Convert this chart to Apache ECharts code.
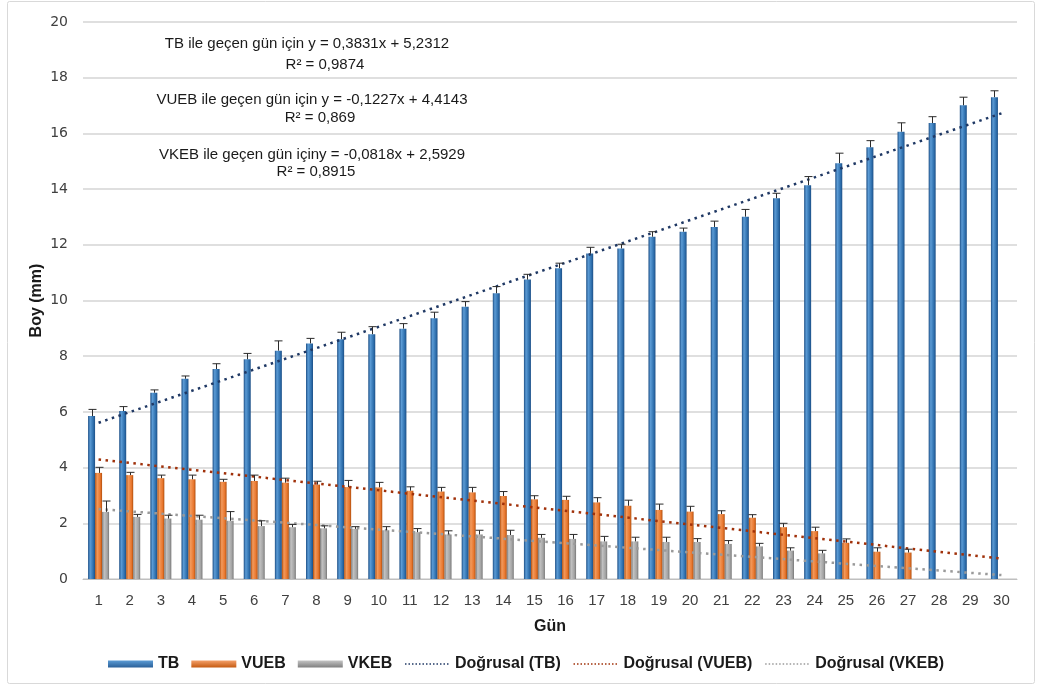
<!DOCTYPE html>
<html>
<head>
<meta charset="utf-8">
<title>Boy (mm) - Gün</title>
<script src="https://cdn.jsdelivr.net/npm/echarts@6/dist/echarts.min.js"></script>
<style>
  html, body { margin: 0; padding: 0; background: #fff; }
  #chart { width: 1037px; height: 686px; }
</style>
</head>
<body>
<div id="chart"></div>
<script>
// gün (x ekseni)
var days = ['1','2','3','4','5','6','7','8','9','10','11','12','13','14','15',
            '16','17','18','19','20','21','22','23','24','25','26','27','28','29','30'];

// ortalama boy (mm) ve üst hata çubukları
var tbValues = [5.85, 6.03, 6.69, 7.19, 7.54, 7.89, 8.20, 8.46, 8.61, 8.79,
                8.99, 9.36, 9.78, 10.26, 10.75, 11.16, 11.69, 11.87, 12.29, 12.47,
                12.64, 13.01, 13.67, 14.14, 14.93, 15.50, 16.06, 16.37, 17.01, 17.30];
var tbErrors = [0.24, 0.16, 0.10, 0.10, 0.19, 0.21, 0.35, 0.18, 0.25, 0.27,
                0.18, 0.22, 0.18, 0.24, 0.19, 0.18, 0.22, 0.15, 0.18, 0.13,
                0.21, 0.26, 0.18, 0.31, 0.36, 0.24, 0.32, 0.23, 0.29, 0.23];

var vuebValues = [3.81, 3.73, 3.62, 3.58, 3.49, 3.52, 3.46, 3.39, 3.30, 3.29,
                  3.17, 3.14, 3.11, 2.98, 2.86, 2.84, 2.75, 2.63, 2.48, 2.42,
                  2.33, 2.20, 1.86, 1.72, 1.30, 0.98, 0.95, null, null, null];
var vuebErrors = [0.20, 0.10, 0.11, 0.15, 0.09, 0.21, 0.16, 0.12, 0.24, 0.18,
                  0.14, 0.15, 0.18, 0.16, 0.13, 0.13, 0.17, 0.20, 0.21, 0.19,
                  0.12, 0.11, 0.14, 0.14, 0.14, 0.14, 0.12, null, null, null];

var vkebValues = [2.41, 2.23, 2.17, 2.13, 2.09, 1.90, 1.86, 1.82, 1.80, 1.75,
                  1.68, 1.60, 1.60, 1.58, 1.48, 1.44, 1.35, 1.35, 1.33, 1.33,
                  1.26, 1.17, 1.02, 0.92, null, null, null, null, null, null];
var vkebErrors = [0.39, 0.09, 0.12, 0.16, 0.33, 0.19, 0.10, 0.09, 0.08, 0.13,
                  0.13, 0.13, 0.15, 0.17, 0.12, 0.16, 0.18, 0.15, 0.17, 0.12,
                  0.12, 0.11, 0.10, 0.11, null, null, null, null, null, null];

// doğrusal eğilim çizgileri: 1. ve 30. gündeki değerler
var trendDays = [1, 30];
var trendTB = [5.61, 16.72];
var trendVUEB = [4.29, 0.73];
var trendVKEB = [2.51, 0.14];

var yTicks = { min: 0, max: 20, interval: 2 };

var annotations = [
  'TB ile geçen gün için y = 0,3831x + 5,2312', 'R² = 0,9874',
  'VUEB ile geçen gün için y = -0,1227x + 4,4143', 'R² = 0,869',
  'VKEB ile geçen gün içiny = -0,0818x + 2,5929', 'R² = 0,8915'
];

var FONT = '"Liberation Sans", sans-serif';

function bevel(dark, light, mid) {
  return new echarts.graphic.LinearGradient(0, 0, 1, 0, [
    { offset: 0, color: dark }, { offset: 0.3, color: light },
    { offset: 0.75, color: mid }, { offset: 1, color: dark }
  ]);
}
function legendFill(dark, light) {
  return new echarts.graphic.LinearGradient(0, 0, 0, 1, [
    { offset: 0, color: light }, { offset: 1, color: dark }
  ]);
}

function pairs(xs, ys) {
  return xs.map(function (x, i) { return [x, ys[i]]; });
}

function errorSeries(values, errors, offset) {
  var data = [];
  for (var i = 0; i < values.length; i++) {
    if (values[i] != null) data.push([i, values[i], values[i] + errors[i]]);
  }
  return {
    type: 'custom',
    silent: true,
    z: 4,
    renderItem: function (params, api) {
      var base = api.coord([api.value(0), api.value(1)]);
      var top = api.coord([api.value(0), api.value(2)]);
      var x = Math.round(base[0] + offset) + 0.5;
      var st = { stroke: '#2b2b2b', lineWidth: 1 };
      return {
        type: 'group',
        children: [
          { type: 'line', shape: { x1: x, y1: base[1], x2: x, y2: top[1] }, style: st },
          { type: 'line', shape: { x1: x - 4, y1: top[1], x2: x + 4, y2: top[1] }, style: st }
        ]
      };
    },
    data: data
  };
}

function trendSeries(name, ys, color) {
  return {
    name: name,
    type: 'line',
    xAxisIndex: 1,
    symbol: 'none',
    silent: true,
    z: 3,
    itemStyle: { color: color },
    lineStyle: { color: color, width: 2.5, type: [2.5, 4.5] },
    data: pairs(trendDays, ys)
  };
}

var chart = echarts.init(document.getElementById('chart'));

var graphics = [{
  type: 'rect',
  shape: { x: 7.5, y: 1.5, width: 1027, height: 682, r: 2 },
  style: { fill: 'none', stroke: '#d9d9d9', lineWidth: 1 },
  silent: true
}];
var annotPos = [[307, 44], [325, 65], [312, 100], [320, 118], [312, 155], [316, 172]];
annotations.forEach(function (t, i) {
  graphics.push({
    type: 'text',
    x: annotPos[i][0], y: annotPos[i][1],
    style: {
      text: t, fill: '#1a1a1a', font: '15px ' + FONT,
      textAlign: 'center', textVerticalAlign: 'middle'
    },
    silent: true
  });
});

var lineLegend = { width: 1.5, type: [1.5, 2] };

var option = {
  animation: false,
  backgroundColor: '#fff',
  textStyle: { fontFamily: FONT },
  grid: { left: 83, right: 20, top: 22, bottom: 107 },
  legend: {
    left: 103,
    top: 651,
    itemWidth: 45,
    itemHeight: 7,
    itemGap: 12,
    textStyle: { fontSize: 16, fontWeight: 'bold', color: '#1a1a1a', fontFamily: FONT },
    data: [
      { name: 'TB', icon: 'rect', itemStyle: { color: legendFill('#2a6099', '#5b9bd5') } },
      { name: 'VUEB', icon: 'rect', itemStyle: { color: legendFill('#c55a11', '#f4a06a') } },
      { name: 'VKEB', icon: 'rect', itemStyle: { color: legendFill('#7f7f7f', '#c4c4c4') } },
      { name: 'Doğrusal (TB)', lineStyle: lineLegend, itemStyle: { opacity: 0 } },
      { name: 'Doğrusal (VUEB)', lineStyle: lineLegend, itemStyle: { opacity: 0 } },
      { name: 'Doğrusal (VKEB)', lineStyle: lineLegend, itemStyle: { opacity: 0 } }
    ]
  },
  xAxis: [{
    type: 'category',
    data: days,
    name: 'Gün',
    nameLocation: 'middle',
    nameGap: 40,
    nameTextStyle: { fontSize: 16, fontWeight: 'bold', color: '#1a1a1a' },
    axisLine: { lineStyle: { color: '#bfbfbf', width: 1 } },
    axisTick: { show: false },
    axisLabel: { color: '#404040', fontSize: 15, margin: 14 }
  }, {
    type: 'value',
    min: 0.5,
    max: 30.5,
    show: false
  }],
  yAxis: {
    type: 'value',
    min: yTicks.min,
    max: yTicks.max,
    interval: yTicks.interval,
    name: 'Boy (mm)',
    nameLocation: 'middle',
    nameGap: 38,
    nameMoveOverlap: false,
    nameTextStyle: { fontSize: 16, fontWeight: 'bold', color: '#1a1a1a' },
    axisLine: { show: false },
    axisTick: { show: false },
    axisLabel: { color: '#404040', fontSize: 14, margin: 15, fontFamily: '"DejaVu Sans", sans-serif' },
    splitLine: { lineStyle: { color: '#d4d4d4', width: 1.5 } }
  },
  series: [
    {
      name: 'TB', type: 'bar', barWidth: 7, barGap: '0%',
      itemStyle: { color: bevel('#1d4f86', '#5b9bd5', '#2e6fad') },
      data: tbValues
    },
    {
      name: 'VUEB', type: 'bar', barWidth: 7, barGap: '0%',
      itemStyle: { color: bevel('#b04e0c', '#f39a5c', '#e8762d') },
      data: vuebValues
    },
    {
      name: 'VKEB', type: 'bar', barWidth: 7, barGap: '0%',
      itemStyle: { color: bevel('#777777', '#c2c2c2', '#a3a3a3') },
      data: vkebValues
    },
    errorSeries(tbValues, tbErrors, -7),
    errorSeries(vuebValues, vuebErrors, 0),
    errorSeries(vkebValues, vkebErrors, 7),
    trendSeries('Doğrusal (TB)', trendTB, '#1f3864'),
    trendSeries('Doğrusal (VUEB)', trendVUEB, '#a0310a'),
    trendSeries('Doğrusal (VKEB)', trendVKEB, '#9a9a9a')
  ],
  graphic: graphics
};

chart.setOption(option);
</script>
</body>
</html>
